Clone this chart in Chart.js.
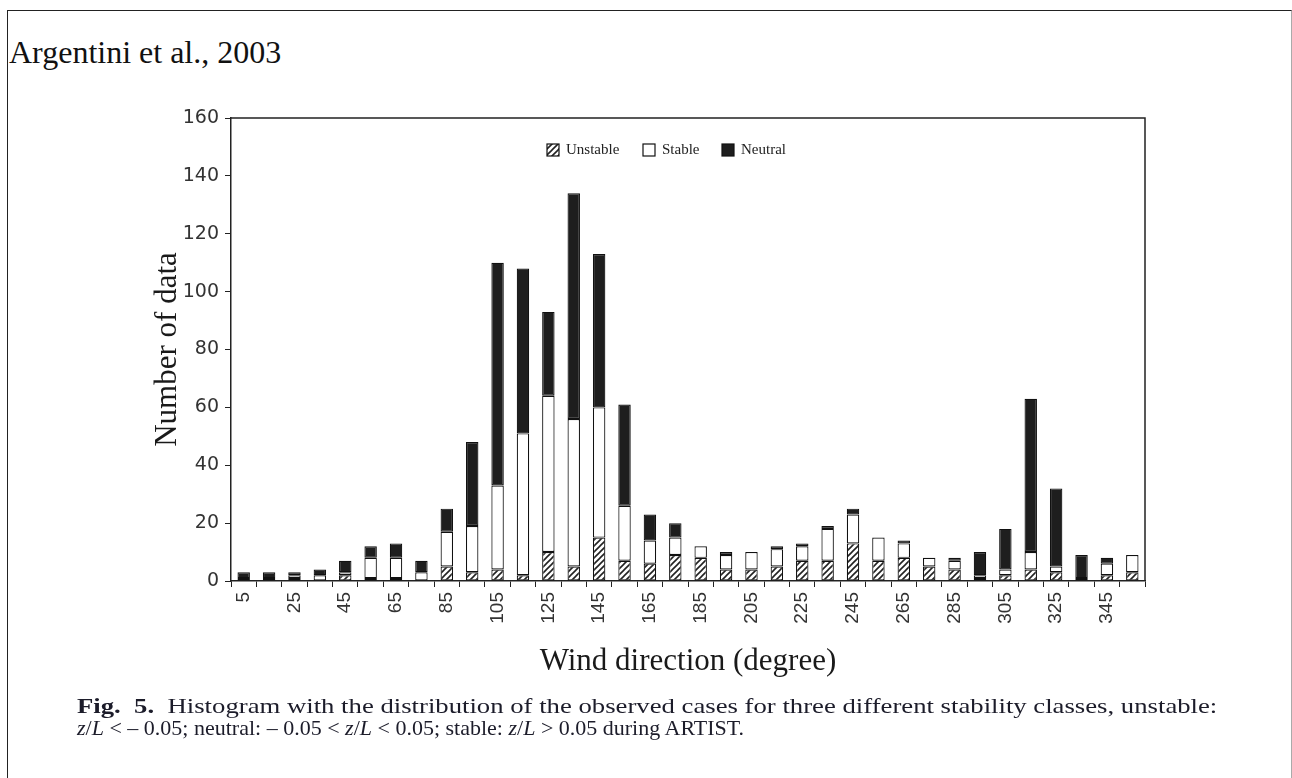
<!DOCTYPE html>
<html>
<head>
<meta charset="utf-8">
<script src="https://cdn.jsdelivr.net/npm/chart.js@4"></script>
<style>
  html, body { margin: 0; padding: 0; background: #fff; }
  body { width: 1292px; height: 778px; position: relative; overflow: hidden; }
  #frame {
    position: absolute; left: 7px; top: 10px; width: 1283px; height: 800px;
    border-left: 1.5px solid #222; border-top: 1.5px solid #222; border-right: 1.5px solid #aaa;
  }
  #wrap { position: absolute; left: 0; top: 0; width: 1292px; height: 778px; }
  #author {
    position: absolute; left: 9px; top: 34px;
    font: 32px "Liberation Serif", serif; color: #111;
  }
  .cap {
    position: absolute; left: 77px;
    font: 22px "Liberation Serif", serif; color: #1c1c2a; white-space: nowrap;
    transform-origin: 0 0;
  }
</style>
</head>
<body>
<div id="frame"></div>
<div id="author">Argentini et al., 2003</div>
<div id="wrap"><canvas id="histChart" width="1292" height="778"></canvas></div>
<div class="cap" id="capLine1" style="top:693px"><b>Fig.&nbsp; 5.</b>&nbsp; Histogram with the distribution of the observed cases for three different stability classes, unstable:</div>
<div class="cap" style="top:715px"><i>z</i>/<i>L</i> &lt; – 0.05; neutral: – 0.05 &lt; <i>z</i>/<i>L</i> &lt; 0.05; stable: <i>z</i>/<i>L</i> &gt; 0.05 during ARTIST.</div>

<script>
// first caption line runs to the right margin
const cap1 = document.getElementById('capLine1')
cap1.style.transform = 'scaleX(' + (1140 / cap1.offsetWidth).toFixed(3) + ')'

// wind direction classes, 10 degree wide
const directions = ['5', '15', '25', '35', '45', '55', '65', '75', '85', '95', '105', '115',
  '125', '135', '145', '155', '165', '175', '185', '195', '205', '215', '225', '235',
  '245', '255', '265', '275', '285', '295', '305', '315', '325', '335', '345', '355']

const unstable = [0, 0, 1, 0, 2, 1, 1, 0, 5, 3, 4, 2, 10, 5, 15, 7, 6, 9,
  8, 4, 4, 5, 7, 7, 13, 7, 8, 5, 4, 1, 2, 4, 3, 0, 2, 3]
const stable = [1, 1, 1, 2, 1, 7, 7, 3, 12, 16, 29, 49, 54, 51, 45, 19, 8, 6,
  4, 5, 6, 6, 5, 11, 10, 8, 5, 3, 3, 1, 2, 6, 2, 1, 4, 6]
const neutral = [2, 2, 1, 2, 4, 4, 5, 4, 8, 29, 77, 57, 29, 78, 53, 35, 9, 5,
  0, 1, 0, 1, 1, 1, 2, 0, 1, 0, 1, 8, 14, 53, 27, 8, 2, 0]

const yTicks = [0, 20, 40, 60, 80, 100, 120, 140, 160]

// diagonal hatching for the unstable class
function makeHatch() {
  const c = document.createElement('canvas')
  c.width = 6
  c.height = 6
  const g = c.getContext('2d')
  g.fillStyle = '#fff'
  g.fillRect(0, 0, 6, 6)
  g.strokeStyle = '#222'
  g.lineWidth = 1.6
  g.beginPath()
  g.moveTo(0, 6); g.lineTo(6, 0)
  g.moveTo(-1, 1); g.lineTo(1, -1)
  g.moveTo(5, 7); g.lineTo(7, 5)
  g.stroke()
  return g.createPattern(c, 'repeat')
}
const hatch = makeHatch()

// box around the plot + the small legend at the top
const framePlugin = {
  id: 'framePlugin',
  afterDraw(chart) {
    const { ctx, chartArea: a } = chart
    ctx.save()
    ctx.strokeStyle = '#222'
    ctx.lineWidth = 1.5
    ctx.beginPath()
    ctx.moveTo(a.left, a.top)
    ctx.lineTo(a.right, a.top)
    ctx.lineTo(a.right, a.bottom)
    ctx.stroke()

    const items = [
      { text: 'Unstable', fill: hatch, x: 316 },
      { text: 'Stable', fill: '#fff', x: 412 },
      { text: 'Neutral', fill: '#1e1e1e', x: 491 }
    ]
    const y = a.top + 32
    ctx.font = '15px "Liberation Serif", serif'
    ctx.textBaseline = 'middle'
    items.forEach(it => {
      const x = a.left + it.x
      ctx.fillStyle = it.fill
      ctx.fillRect(x, y - 6, 12, 12)
      ctx.strokeStyle = '#111'
      ctx.lineWidth = 1.2
      ctx.strokeRect(x, y - 6, 12, 12)
      ctx.fillStyle = '#222'
      ctx.fillText(it.text, x + 19, y)
    })
    ctx.restore()
  }
}

const barStyle = {
  borderColor: '#111',
  borderWidth: 1.2,
  borderSkipped: false,
  barPercentage: 0.49,
  categoryPercentage: 1.0
}

new Chart(document.getElementById('histChart'), {
  type: 'bar',
  data: {
    labels: directions,
    datasets: [
      { label: 'Unstable', data: unstable, backgroundColor: hatch, ...barStyle },
      { label: 'Stable', data: stable, backgroundColor: '#fff', ...barStyle },
      { label: 'Neutral', data: neutral, backgroundColor: '#1e1e1e', ...barStyle }
    ]
  },
  options: {
    responsive: false,
    animation: false,
    layout: { padding: { left: 141, top: 118, right: 147, bottom: 97 } },
    plugins: { legend: { display: false }, tooltip: { enabled: false } },
    scales: {
      x: {
        stacked: true,
        afterFit: (s) => { s.height = 100 },
        grid: { drawOnChartArea: false, tickLength: 6, color: '#222', offset: true },
        border: { color: '#222', width: 1.5 },
        ticks: {
          autoSkip: false,
          minRotation: 90,
          maxRotation: 90,
          padding: 5,
          color: '#333',
          font: { family: '"Liberation Sans", Arial, sans-serif', size: 19 },
          callback: function (value, index) {
            return index % 2 === 0 ? this.getLabelForValue(value) : ''
          }
        },
        title: {
          display: true,
          text: 'Wind direction (degree)',
          color: '#1a1a1a',
          padding: { bottom: 1 },
          font: { family: '"Liberation Serif", serif', size: 31 }
        }
      },
      y: {
        stacked: true,
        min: 0,
        max: 160,
        afterFit: (s) => { s.width = 90 },
        afterBuildTicks: (s) => { s.ticks = yTicks.map(v => ({ value: v })) },
        grid: { drawOnChartArea: false, tickLength: 6, color: '#222' },
        border: { color: '#222', width: 1.5 },
        ticks: {
          padding: 6,
          color: '#333',
          font: { family: '"DejaVu Sans", sans-serif', size: 19 }
        },
        title: {
          display: true,
          text: 'Number of data',
          color: '#1a1a1a',
          padding: { top: 8 },
          font: { family: '"Liberation Serif", serif', size: 31 }
        }
      }
    }
  },
  plugins: [framePlugin]
})
</script>
</body>
</html>
